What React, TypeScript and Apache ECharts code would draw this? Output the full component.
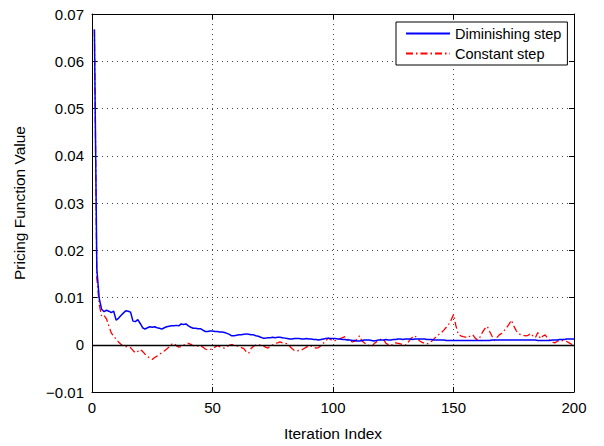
import React, { useEffect, useRef } from "react";
import * as echarts from "echarts";

// Iteration index runs 1..200
const diminishing: number[] = [
  0.0667, 0.0160, 0.0098, 0.0075, 0.0070, 0.0073, 0.0071, 0.0068, 0.0071, 0.0052,
  0.0056, 0.0062, 0.0067, 0.0072, 0.0071, 0.0069, 0.0050, 0.0049, 0.0053, 0.0045,
  0.0036, 0.0033, 0.0036, 0.0038, 0.0037, 0.0038, 0.0036, 0.0035, 0.0033, 0.0036,
  0.0038, 0.0039, 0.0040, 0.0040, 0.0041, 0.0040, 0.0044, 0.0043, 0.0044, 0.0040,
  0.0037, 0.0035, 0.0035, 0.0034, 0.0034, 0.0031, 0.0028, 0.0028, 0.0029, 0.0029,
  0.0028, 0.0028, 0.0027, 0.0027, 0.0026, 0.0024, 0.0022, 0.0019, 0.0019, 0.0020,
  0.0021, 0.0021, 0.0022, 0.0023, 0.0022, 0.0021, 0.0021, 0.0019, 0.0018, 0.0016,
  0.0014, 0.0014, 0.0015, 0.0015, 0.0016, 0.0015, 0.0016, 0.0016, 0.0015, 0.0014,
  0.0013, 0.0012, 0.0012, 0.0013, 0.0013, 0.0013, 0.0012, 0.0012, 0.0013, 0.0012,
  0.0012, 0.0011, 0.0011, 0.0010, 0.0011, 0.0012, 0.0013, 0.0014, 0.0013, 0.0013,
  0.0013, 0.0012, 0.0012, 0.0011, 0.0011, 0.0010, 0.0010, 0.0009, 0.0009, 0.0008,
  0.0008, 0.0009, 0.0010, 0.0010, 0.0010, 0.0009, 0.0008, 0.0009, 0.0010, 0.0010,
  0.0010, 0.0011, 0.0010, 0.0010, 0.0011, 0.0011, 0.0012, 0.0012, 0.0011, 0.0012,
  0.0012, 0.0012, 0.0011, 0.0012, 0.0012, 0.0012, 0.0012, 0.0012, 0.0011, 0.0011,
  0.0011, 0.0010, 0.0010, 0.0010, 0.0010, 0.0010, 0.0009, 0.0009, 0.0009, 0.0009,
  0.0009, 0.0009, 0.0009, 0.0009, 0.0009, 0.0009, 0.0009, 0.0009, 0.0009, 0.0009,
  0.0009, 0.0009, 0.0009, 0.0009, 0.0009, 0.0010, 0.0010, 0.0010, 0.0010, 0.0010,
  0.0010, 0.0010, 0.0010, 0.0010, 0.0010, 0.0010, 0.0010, 0.0010, 0.0010, 0.0010,
  0.0010, 0.0010, 0.0010, 0.0010, 0.0009, 0.0009, 0.0009, 0.0009, 0.0009, 0.0009,
  0.0010, 0.0010, 0.0010, 0.0011, 0.0011, 0.0011, 0.0012, 0.0012, 0.0012, 0.0012,
];

const constant: number[] = [
  0.0667, 0.0140, 0.0085, 0.0060, 0.0062, 0.0055, 0.0040, 0.0025, 0.0018, 0.0012,
  0.0006, 0.0001, -0.0003, -0.0004, -0.0004, -0.0006, -0.0012, -0.0017, -0.0014, -0.0010,
  -0.0014, -0.0020, -0.0025, -0.0028, -0.0031, -0.0027, -0.0024, -0.0020, -0.0017, -0.0013,
  -0.0009, -0.0005, 0.0001, 0.0003, -0.0002, -0.0005, -0.0004, -0.0001, 0.0002, 0.0003,
  0.0001, -0.0002, -0.0002, -0.0003, -0.0002, -0.0005, -0.0009, -0.0011, -0.0010, -0.0009,
  -0.0005, -0.0002, -0.0004, -0.0006, -0.0007, -0.0004, -0.0001, 0.0000, -0.0001, -0.0002,
  -0.0004, -0.0006, -0.0008, -0.0015, -0.0018, -0.0008, -0.0003, -0.0001, 0.0000, -0.0001,
  -0.0002, -0.0005, -0.0007, -0.0003, 0.0000, 0.0003, 0.0004, 0.0006, 0.0004, 0.0003,
  0.0002, -0.0003, -0.0008, -0.0012, -0.0013, -0.0012, -0.0011, -0.0008, -0.0005, -0.0002,
  -0.0003, -0.0005, -0.0007, -0.0006, -0.0002, 0.0003, 0.0008, 0.0014, 0.0011, 0.0008,
  0.0009, 0.0011, 0.0013, 0.0015, 0.0017, 0.0012, 0.0008, 0.0006, 0.0007, 0.0012,
  0.0019, 0.0008, 0.0004, 0.0001, -0.0002, -0.0004, 0.0002, 0.0006, 0.0009, 0.0012,
  0.0011, 0.0003, 0.0000, -0.0002, 0.0001, 0.0004, 0.0003, 0.0002, 0.0000, -0.0001,
  0.0004, 0.0011, 0.0016, 0.0019, 0.0013, 0.0008, 0.0005, 0.0003, 0.0002, 0.0004,
  0.0008, 0.0013, 0.0018, 0.0022, 0.0026, 0.0031, 0.0037, 0.0043, 0.0052, 0.0064,
  0.0040, 0.0022, 0.0019, 0.0017, 0.0016, 0.0015, 0.0019, 0.0021, 0.0014, 0.0010,
  0.0016, 0.0026, 0.0034, 0.0039, 0.0028, 0.0018, 0.0009, 0.0015, 0.0021, 0.0024,
  0.0030, 0.0036, 0.0043, 0.0052, 0.0040, 0.0030, 0.0024, 0.0021, 0.0020, 0.0019,
  0.0020, 0.0024, 0.0018, 0.0015, 0.0026, 0.0013, 0.0018, 0.0021, 0.0014, 0.0009,
  0.0006, 0.0004, 0.0007, 0.0010, 0.0009, 0.0008, 0.0007, 0.0004, 0.0001, -0.0001,
];

const seriesNames = ["Diminishing step", "Constant step"];

const FONT = "'Liberation Sans', Arial, Helvetica, sans-serif";

export default function App() {
  const ref = useRef<HTMLDivElement>(null);

  useEffect(() => {
    if (!ref.current) return;
    const chart = echarts.init(ref.current, undefined, { renderer: "svg" });
    const toPairs = (arr: number[]) => arr.map((v, i) => [i + 1, v]);
    const fmtY = (v: number) => {
      if (Math.abs(v) < 1e-12) return "0";
      const s = v.toFixed(2);
      return s.replace("-", "\u2212");
    };
    const tickStyle = { show: true, inside: true, length: 5, lineStyle: { color: "#000", width: 1 } };
    const axisLine = { show: true, onZero: false, lineStyle: { color: "#000", width: 1 } };
    const gridLine = { show: true, lineStyle: { color: "#444", width: 1, type: [1, 4] as number[] } };

    chart.setOption({
      animation: false,
      backgroundColor: "#fff",
      grid: { left: 92, right: 30, top: 14, bottom: 52, containLabel: false },
      legend: {
        orient: "vertical",
        left: 396,
        top: 22,
        itemWidth: 44,
        itemHeight: 14,
        itemGap: 5,
        padding: [4, 6, 4, 9],
        borderColor: "#000",
        borderWidth: 1,
        borderRadius: 0,
        backgroundColor: "#fff",
        itemStyle: { opacity: 0 },
        textStyle: { fontFamily: FONT, fontSize: 14.5, color: "#000" },
        data: seriesNames,
      },
      xAxis: [
        {
          type: "value",
          min: 0,
          max: 200,
          interval: 50,
          name: "Iteration Index",
          nameLocation: "middle",
          nameGap: 33,
          nameTextStyle: { fontFamily: FONT, fontSize: 15.5, color: "#000" },
          axisLine,
          axisTick: tickStyle,
          axisLabel: { fontFamily: FONT, fontSize: 15, color: "#000", margin: 8 },
          splitLine: gridLine,
        },
        {
          type: "value",
          position: "top",
          min: 0,
          max: 200,
          interval: 50,
          axisLine,
          axisTick: tickStyle,
          axisLabel: { show: false },
          splitLine: { show: false },
        },
      ],
      yAxis: [
        {
          type: "value",
          min: -0.01,
          max: 0.07,
          interval: 0.01,
          name: "Pricing Function Value",
          nameLocation: "middle",
          nameGap: 65,
          nameTextStyle: { fontFamily: FONT, fontSize: 15.5, color: "#000" },
          axisLine,
          axisTick: tickStyle,
          axisLabel: { fontFamily: FONT, fontSize: 15, color: "#000", margin: 8, formatter: fmtY },
          splitLine: gridLine,
        },
        {
          type: "value",
          position: "right",
          min: -0.01,
          max: 0.07,
          interval: 0.01,
          axisLine,
          axisTick: tickStyle,
          axisLabel: { show: false },
          splitLine: { show: false },
        },
      ],
      series: [
        {
          name: seriesNames[0],
          type: "line",
          data: toPairs(diminishing),
          showSymbol: false,
          symbol: "none",
          lineStyle: { color: "#0000ff", width: 1.5 },
          itemStyle: { color: "#0000ff" },
          z: 3,
          markLine: {
            silent: true,
            symbol: ["none", "none"],
            label: { show: false },
            lineStyle: { color: "#000", width: 1.3, type: "solid" },
            data: [{ yAxis: 0 }],
          },
        },
        {
          name: seriesNames[1],
          type: "line",
          data: toPairs(constant),
          showSymbol: false,
          symbol: "none",
          lineStyle: { color: "#ff0000", width: 1.3, type: [7, 3, 1.5, 3] },
          itemStyle: { color: "#ff0000" },
          z: 2,
        },
      ],
    });
    return () => chart.dispose();
  }, []);

  return (
    <div
      ref={ref}
      style={{ position: "fixed", left: 0, top: 0, width: 604, height: 446, background: "#fff" }}
    />
  );
}
